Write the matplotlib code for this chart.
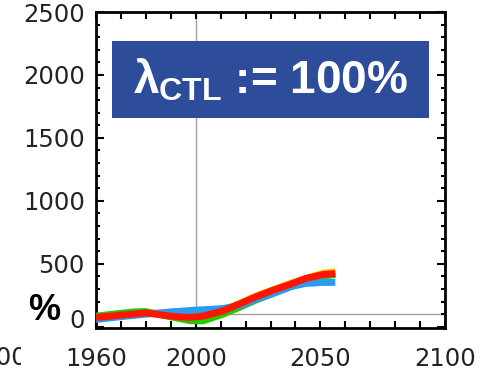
import matplotlib
matplotlib.use("Agg")
import matplotlib.pyplot as plt
from matplotlib.ticker import FixedLocator, MultipleLocator
from matplotlib.transforms import ScaledTranslation, Bbox

plt.rcParams['mathtext.fontset'] = 'custom'
plt.rcParams['mathtext.rm'] = 'Liberation Sans:bold'
plt.rcParams['mathtext.it'] = 'Liberation Sans:bold'
plt.rcParams['mathtext.bf'] = 'Liberation Sans:bold'

# ---- data ----
years_red = [1960, 1970, 1980, 1990, 1997, 2003, 2011, 2018, 2024, 2031, 2038, 2044, 2051, 2056]
red = [74, 92, 110, 84, 74, 84, 126, 185, 237, 290, 338, 383, 415, 423]

years_blue = [1960, 1970, 1980, 1990, 2000, 2005, 2011, 2018, 2024, 2031, 2038, 2044, 2051, 2056]
blue = [58, 80, 100, 118, 132, 137, 145, 171, 216, 264, 317, 344, 352, 352]

years_green = [1960, 1975, 1980, 1990, 1998, 2003, 2011, 2018, 2024, 2031, 2038, 2044, 2051, 2056]
green = [84, 118, 120, 79, 47, 47, 100, 158, 211, 264, 317, 365, 402, 415]

years_yellow = [1960, 1980, 1998, 2011, 2024, 2038, 2051, 2056]
yellow = [80, 115, 78, 128, 242, 345, 425, 438]

x_major = [1960, 2000, 2050, 2100]
x_labels = ["1960", "2000", "2050", "2100"]
y_major = [0, 500, 1000, 1500, 2000, 2500]
ref_year = 2000
ref_level = 100
title_txt = r"$\lambda_{\mathrm{CTL}}$ := 100%"

fig = plt.figure(figsize=(4.86, 3.70), dpi=100)
ax = fig.add_axes([96/486, 1-328/370, (445-96)/486, (328-12)/370])
ax.set_xlim(1960, 2100)
ax.set_ylim(-10, 2500)

ax.axvline(ref_year, color='#a0a0a0', lw=1.0, zorder=1)
ax.axhline(ref_level, color='#a0a0a0', lw=1.0, zorder=1)

lw = 5.0
ax.plot(years_yellow, yellow, color='#ffcc00', lw=lw, solid_capstyle='butt', zorder=2)
ax.plot(years_green, green, color='#22cc00', lw=lw, solid_capstyle='butt', zorder=3)
ax.plot(years_blue, blue, color='#2a9bf0', lw=lw, solid_capstyle='butt', zorder=4)
ax.plot(years_red, red, color='#ff1500', lw=lw, solid_capstyle='butt', zorder=5)

ax.xaxis.set_major_locator(FixedLocator(x_major))
ax.set_xticklabels(x_labels)
ax.xaxis.set_minor_locator(MultipleLocator(10))
ax.yaxis.set_major_locator(FixedLocator(y_major))
ax.yaxis.set_minor_locator(MultipleLocator(100))

for s in ax.spines.values():
    s.set_linewidth(2.0)
    s.set_color('black')

ax.tick_params(axis='x', which='both', direction='in', top=True, bottom=True,
               length=5, width=1.5, pad=14, labelsize=17.5, labelcolor='#222222')
ax.tick_params(axis='y', which='major', direction='in', left=True, right=True,
               length=5.5, width=1.5, pad=8, labelsize=17.5, labelcolor='#222222')
ax.tick_params(axis='y', which='minor', direction='in', left=True, right=True,
               length=3, width=1.5)

# raise the "0" label slightly as in the reference
lab0 = ax.yaxis.get_major_ticks()[0].label1
lab0.set_transform(lab0.get_transform() + ScaledTranslation(0, 8/100, fig.dpi_scale_trans))

# title box
fig.patches.append(plt.Rectangle((112/486, 1-118/370), (429-112)/486, (118-41)/370,
                                 transform=fig.transFigure, facecolor='#2d4d9a',
                                 edgecolor='none', zorder=10))
fig.text(270/486, 1-80/370, title_txt, color='white', fontsize=33,
         fontweight='bold', family='Liberation Sans', ha='center', va='center', zorder=11)

# percent label
fig.text(44/486, 1-311/370, "%", color='black', fontsize=26, fontweight='bold',
         family='Liberation Sans', ha='center', va='center')

# clipped label from neighbouring panel
t = fig.text(27/486, 1-358/370, "2100", color='#222222', fontsize=17.5,
             ha='right', va='center')
t.set_clip_box(Bbox.from_extents(0, 0, 21, 370))
t.set_clip_on(True)

fig.savefig("out.png", dpi=100)
